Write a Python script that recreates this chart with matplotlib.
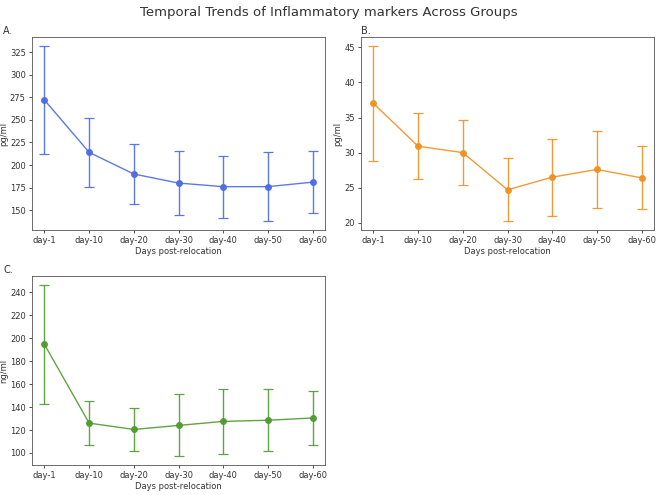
import matplotlib
matplotlib.use("Agg")
import matplotlib.pyplot as plt
import numpy as np

days = ["day-1", "day-10", "day-20", "day-30", "day-40", "day-50", "day-60"]

a_mean = [272, 214, 190, 180, 176, 176, 181]
a_err = [60, 38, 33.5, 35, 34.5, 38.5, 34.5]

b_mean = [37.0, 30.9, 30.0, 24.7, 26.5, 27.6, 26.4]
b_err = [8.2, 4.7, 4.65, 4.5, 5.5, 5.45, 4.5]

c_mean = [194.5, 126, 120.5, 124, 127.5, 128.5, 130.5]
c_err = [52, 19, 18.5, 27, 28.5, 27, 23.5]

plt.rcParams["text.color"] = "#333333"
plt.rcParams["axes.labelcolor"] = "#333333"
plt.rcParams["xtick.color"] = "#333333"
plt.rcParams["ytick.color"] = "#333333"

fig = plt.figure(figsize=(6.58, 4.95), dpi=100)
fig.text(0.5, 0.975, "Temporal Trends of Inflammatory markers Across Groups",
         ha="center", va="center", fontsize=9.5, color="#333333")

panels = [
    ("A.", [0.0486, 0.535, 0.4454, 0.39], a_mean, a_err, "#4a6ae6", "pg/ml", [150, 175, 200, 225, 250, 275, 300, 325]),
    ("B.", [0.5486, 0.535, 0.4454, 0.39], b_mean, b_err, "#f0901e", "pg/ml", [20, 25, 30, 35, 40, 45]),
    ("C.", [0.0486, 0.0606, 0.4454, 0.3814], c_mean, c_err, "#4e9a2e", "ng/ml", [100, 120, 140, 160, 180, 200, 220, 240]),
]

for label, rect, mean, err, color, ylab, yt in panels:
    ax = fig.add_axes(rect)
    x = np.arange(len(days))
    ax.errorbar(x, mean, yerr=err, color=color, marker="o", markersize=4,
                linewidth=1.0, elinewidth=1.0, capsize=3.5, capthick=0.9, alpha=0.9)
    ax.set_xticks(x)
    ax.set_xticklabels(days, fontsize=6)
    ax.set_yticks(yt)
    ax.tick_params(axis="y", labelsize=6)
    ax.tick_params(length=2.5, width=0.6, pad=2)
    ax.set_xlabel("Days post-relocation", fontsize=6, labelpad=1)
    ax.set_ylabel(ylab, fontsize=6, labelpad=1)
    for s in ax.spines.values():
        s.set_linewidth(0.6)
        s.set_color("#555555")
    ax.set_xlim(-0.28, 6.28)
    fig.text(rect[0] - 0.044 if label != "B." else rect[0], rect[1] + rect[3] + 0.013,
             label, fontsize=7, ha="left", va="center")

fig.savefig("out.png", dpi=100)
